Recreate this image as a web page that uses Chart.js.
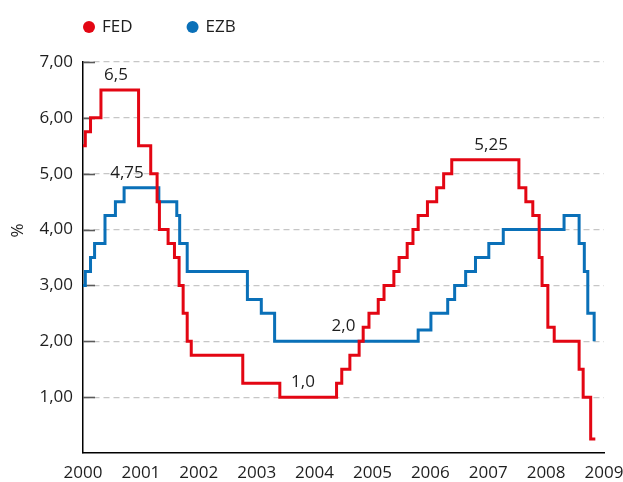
<!DOCTYPE html>
<html><head><meta charset="utf-8">
<script src="https://cdn.jsdelivr.net/npm/chart.js@4.4.1/dist/chart.umd.min.js"></script>
<style>html,body{margin:0;padding:0;background:#fff}#wrap{width:623px;height:482px;position:relative}</style>
</head><body><div id="wrap"><canvas id="c"></canvas></div>
<script>
const seriesNames = ['FED', 'EZB'];
const fedDates = [2000.00, 2000.04, 2000.13, 2000.31, 2000.96, 2001.17, 2001.28, 2001.32, 2001.47, 2001.58, 2001.66, 2001.73, 2001.80, 2001.87, 2002.76, 2003.40, 2004.38, 2004.47, 2004.61, 2004.77, 2004.84, 2004.94, 2005.10, 2005.20, 2005.37, 2005.46, 2005.60, 2005.70, 2005.79, 2005.95, 2006.11, 2006.23, 2006.37, 2007.53, 2007.65, 2007.77, 2007.88, 2007.93, 2008.03, 2008.14, 2008.57, 2008.64, 2008.77, 2008.85];
const fedRates = [5.5, 5.75, 6.0, 6.5, 5.5, 5.0, 4.5, 4.0, 3.75, 3.5, 3.0, 2.5, 2.0, 1.75, 1.25, 1.0, 1.25, 1.5, 1.75, 2.0, 2.25, 2.5, 2.75, 3.0, 3.25, 3.5, 3.75, 4.0, 4.25, 4.5, 4.75, 5.0, 5.25, 4.75, 4.5, 4.25, 3.5, 3.0, 2.25, 2.0, 1.5, 1.0, 0.25, 0.25];
const ezbDates = [2000.00, 2000.04, 2000.13, 2000.20, 2000.38, 2000.56, 2000.71, 2001.31, 2001.62, 2001.67, 2001.80, 2002.84, 2003.08, 2003.31, 2005.79, 2006.01, 2006.30, 2006.42, 2006.61, 2006.78, 2007.01, 2007.26, 2008.31, 2008.57, 2008.66, 2008.72, 2008.83];
const ezbRates = [3.0, 3.25, 3.5, 3.75, 4.25, 4.5, 4.75, 4.5, 4.25, 3.75, 3.25, 2.75, 2.5, 2.0, 2.2, 2.5, 2.75, 3.0, 3.25, 3.5, 3.75, 4.0, 4.25, 3.75, 3.25, 2.5, 2.0];
const yearTicks = [2000, 2001, 2002, 2003, 2004, 2005, 2006, 2007, 2008, 2009];
const rateTicks = [0, 1, 2, 3, 4, 5, 6, 7];
const rateTickLabels = ['', '1,00', '2,00', '3,00', '4,00', '5,00', '6,00', '7,00'];
const axisTitle = '%';
const noteTexts = ['6,5', '4,75', '1,0', '2,0', '5,25'];
const noteDates = [2000.57, 2000.76, 2003.80, 2004.50, 2007.05];
const noteRates = [6.5, 4.75, 1.0, 2.0, 5.25];

const FONT = '"Open Sans", "Noto Sans", sans-serif';
const FS = 17;
const TXT = '#1e1e1e';
const RED = '#e30613';
const BLUE = '#0a70b8';

const toPts = (d, v) => d.map((x, i) => ({x: x, y: v[i]}));

const extras = {
  id: 'extras',
  beforeDatasetsDraw(chart) {
    const ctx = chart.ctx, ys = chart.scales.y, a = chart.chartArea;
    ctx.save();
    ctx.strokeStyle = '#5a5a5a';
    ctx.lineWidth = 1.6;
    rateTicks.forEach(v => {
      if (v === 0) return;
      const py = Math.round(ys.getPixelForValue(v)) + 0.5;
      ctx.beginPath(); ctx.moveTo(a.left, py); ctx.lineTo(a.left + 12, py); ctx.stroke();
    });
    ctx.restore();
  },
  afterDraw(chart) {
    const ctx = chart.ctx, xs = chart.scales.x, ys = chart.scales.y;
    ctx.save();
    ctx.font = FS + 'px ' + FONT;
    ctx.fillStyle = TXT;
    ctx.textAlign = 'center';
    ctx.textBaseline = 'middle';
    noteTexts.forEach((t, i) => {
      ctx.fillText(t, xs.getPixelForValue(noteDates[i]), ys.getPixelForValue(noteRates[i]) - 15);
    });
    ctx.save();
    ctx.translate(18, ys.getPixelForValue(4) + 1);
    ctx.rotate(-Math.PI / 2);
    ctx.fillText(axisTitle, 0, 0);
    ctx.restore();
    let cx = 83;
    const ly = 27;
    chart.data.datasets.forEach(ds => {
      ctx.fillStyle = ds.borderColor;
      ctx.beginPath(); ctx.arc(cx + 6, ly, 6, 0, Math.PI * 2); ctx.fill();
      ctx.fillStyle = TXT;
      ctx.textAlign = 'left';
      ctx.fillText(ds.label, cx + 19, ly);
      cx += 19 + ctx.measureText(ds.label).width + 54;
    });
    ctx.restore();
  }
};

new Chart(document.getElementById('c'), {
  type: 'line',
  data: {
    datasets: [
      {label: seriesNames[0], data: toPts(fedDates, fedRates), borderColor: RED, backgroundColor: RED},
      {label: seriesNames[1], data: toPts(ezbDates, ezbRates), borderColor: BLUE, backgroundColor: BLUE}
    ]
  },
  options: {
    responsive: true,
    maintainAspectRatio: false,
    animation: false,
    events: [],
    layout: {padding: {left: 8, top: 62, right: 19, bottom: 0}},
    elements: {
      point: {radius: 0},
      line: {stepped: 'before', borderWidth: 3, borderJoinStyle: 'miter', borderCapStyle: 'butt', fill: false, tension: 0}
    },
    plugins: {legend: {display: false}, tooltip: {enabled: false}},
    scales: {
      x: {
        type: 'linear', min: yearTicks[0], max: yearTicks[yearTicks.length - 1],
        afterBuildTicks: s => { s.ticks = yearTicks.map(v => ({value: v})); },
        afterFit: s => { s.height = 29; s.paddingLeft = 0; s.paddingRight = 0; },
        ticks: {padding: 10, maxRotation: 0, autoSkip: false, color: TXT, font: {family: FONT, size: FS}, callback: v => String(v)},
        grid: {display: false, drawTicks: false},
        border: {display: true, color: '#000', width: 1.5}
      },
      y: {
        type: 'linear', min: rateTicks[0], max: rateTicks[rateTicks.length - 1],
        afterBuildTicks: s => { s.ticks = rateTicks.map(v => ({value: v})); },
        afterFit: s => { s.width = 75; },
        ticks: {padding: 10, color: TXT, font: {family: FONT, size: FS}, callback: (v) => rateTickLabels[rateTicks.indexOf(v)]},
        grid: {drawTicks: false, color: c => (c.tick && c.tick.value === 0) ? 'rgba(0,0,0,0)' : '#c6c6c6', lineWidth: 1.2},
        border: {display: true, color: '#000', width: 1.5, dash: [6, 4]}
      }
    }
  },
  plugins: [extras]
});
</script></body></html>
